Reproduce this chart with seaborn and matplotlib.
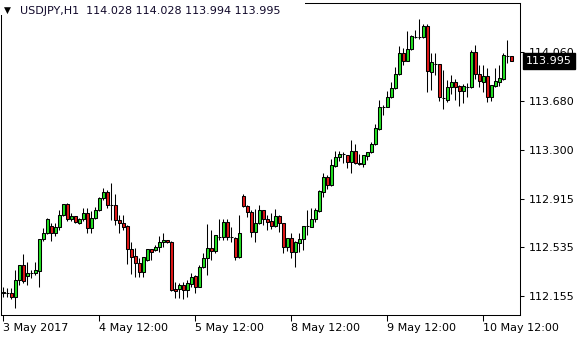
import numpy as np
import pandas as pd
import matplotlib
matplotlib.use("Agg")
import matplotlib.pyplot as plt
from matplotlib.patches import Rectangle
from matplotlib.transforms import blended_transform_factory
import seaborn as sns

# ---------------- data (USDJPY H1) ----------------
opens = [112.181, 112.181, 112.176, 112.145, 112.280, 112.398, 112.311, 112.337, 112.337, 112.353,
         112.598, 112.645, 112.702, 112.650, 112.692, 112.788, 112.874, 112.755, 112.781, 112.728,
         112.755, 112.802, 112.684, 112.763, 112.827, 112.919, 112.970, 112.866, 112.866, 112.749,
         112.728, 112.702, 112.523, 112.468, 112.411, 112.340, 112.437, 112.523, 112.515, 112.536,
         112.575, 112.593, 112.580, 112.212, 112.210, 112.241, 112.202, 112.249, 112.311, 112.228,
         112.380, 112.450, 112.528, 112.509, 112.619, 112.614, 112.736, 112.614, 112.606, 112.462,
         112.937, 112.861, 112.814, 112.652, 112.726, 112.827, 112.755, 112.744, 112.702, 112.781,
         112.723, 112.541, 112.606, 112.501, 112.572, 112.598, 112.702, 112.697, 112.755, 112.822,
         112.970, 113.083, 113.023, 113.174, 113.239, 113.265, 113.257, 113.205, 113.289, 113.192,
         113.185, 113.252, 113.278, 113.341, 113.458, 113.634, 113.635, 113.708, 113.779, 113.890,
         114.052, 113.994, 114.084, 114.182, 114.176, 114.177, 114.266, 113.908, 113.969, 113.969,
         113.700, 113.687, 113.786, 113.830, 113.797, 113.760, 113.791, 113.786, 114.065, 113.890,
         113.830, 113.875, 113.713, 113.797, 113.830, 113.851, 114.034, 114.028]
highs = [112.223, 112.218, 112.218, 112.358, 112.400, 112.483, 112.423, 112.358, 112.423, 112.601,
         112.684, 112.763, 112.723, 112.723, 112.827, 112.876, 112.884, 112.802, 112.783, 112.763,
         112.841, 112.841, 112.820, 112.853, 112.926, 113.002, 112.984, 113.036, 112.950, 112.788,
         112.788, 112.710, 112.580, 112.528, 112.455, 112.460, 112.525, 112.525, 112.554, 112.627,
         112.645, 112.595, 112.582, 112.267, 112.254, 112.267, 112.280, 112.333, 112.319, 112.398,
         112.494, 112.718, 112.671, 112.634, 112.755, 112.755, 112.755, 112.697, 112.619, 112.788,
         112.952, 112.866, 112.827, 112.833, 112.866, 112.829, 112.788, 112.802, 112.833, 112.788,
         112.728, 112.608, 112.645, 112.585, 112.645, 112.704, 112.827, 112.841, 112.841, 112.984,
         113.114, 113.101, 113.224, 113.285, 113.289, 113.278, 113.259, 113.375, 113.343, 113.265,
         113.259, 113.283, 113.361, 113.500, 113.687, 113.648, 113.758, 113.830, 113.948, 114.109,
         114.091, 114.229, 114.195, 114.234, 114.318, 114.281, 114.281, 114.052, 114.052, 113.970,
         113.922, 113.844, 113.883, 113.851, 113.805, 113.812, 113.820, 114.078, 114.117, 113.961,
         113.961, 113.935, 113.807, 113.935, 113.961, 114.052, 114.156, 114.028]
lows = [112.145, 112.147, 112.132, 112.059, 112.241, 112.254, 112.241, 112.293, 112.319, 112.228,
        112.587, 112.637, 112.587, 112.627, 112.671, 112.781, 112.744, 112.744, 112.723, 112.718,
        112.744, 112.645, 112.645, 112.755, 112.820, 112.906, 112.841, 112.749, 112.710, 112.645,
        112.671, 112.403, 112.325, 112.306, 112.306, 112.306, 112.429, 112.437, 112.507, 112.497,
        112.541, 112.567, 112.194, 112.137, 112.137, 112.129, 112.150, 112.228, 112.176, 112.223,
        112.372, 112.319, 112.437, 112.494, 112.593, 112.593, 112.593, 112.580, 112.437, 112.450,
        112.853, 112.770, 112.614, 112.580, 112.718, 112.710, 112.671, 112.677, 112.697, 112.658,
        112.494, 112.509, 112.450, 112.380, 112.501, 112.515, 112.632, 112.694, 112.736, 112.814,
        112.927, 112.989, 113.015, 113.166, 113.208, 113.197, 113.153, 113.119, 113.187, 113.179,
        113.166, 113.218, 113.271, 113.335, 113.453, 113.574, 113.630, 113.701, 113.777, 113.883,
        113.961, 113.992, 114.078, 114.170, 114.162, 114.170, 113.752, 113.765, 113.883, 113.682,
        113.615, 113.672, 113.734, 113.687, 113.640, 113.664, 113.713, 113.781, 113.849, 113.786,
        113.752, 113.674, 113.682, 113.791, 113.797, 113.844, 113.979, 113.994]
closes = [112.183, 112.180, 112.145, 112.280, 112.397, 112.275, 112.337, 112.338, 112.358, 112.598,
          112.645, 112.755, 112.650, 112.697, 112.788, 112.874, 112.755, 112.781, 112.736, 112.755,
          112.802, 112.684, 112.763, 112.827, 112.924, 112.970, 112.866, 112.867, 112.749, 112.728,
          112.697, 112.523, 112.462, 112.411, 112.340, 112.458, 112.523, 112.501, 112.536, 112.575,
          112.593, 112.575, 112.202, 112.197, 112.241, 112.202, 112.254, 112.306, 112.228, 112.380,
          112.450, 112.528, 112.509, 112.632, 112.620, 112.736, 112.614, 112.613, 112.462, 112.650,
          112.859, 112.814, 112.652, 112.726, 112.827, 112.755, 112.736, 112.702, 112.781, 112.723,
          112.541, 112.606, 112.501, 112.580, 112.598, 112.702, 112.703, 112.755, 112.827, 112.978,
          113.083, 113.023, 113.179, 113.239, 113.265, 113.264, 113.205, 113.289, 113.192, 113.190,
          113.257, 113.278, 113.343, 113.466, 113.635, 113.636, 113.708, 113.779, 113.890, 114.052,
          113.994, 114.084, 114.188, 114.183, 114.178, 114.266, 113.916, 113.987, 113.968, 113.708,
          113.702, 113.786, 113.830, 113.791, 113.760, 113.797, 113.792, 114.065, 113.890, 113.838,
          113.875, 113.713, 113.805, 113.838, 113.857, 114.039, 114.033, 113.995]

x_tick_bars = [0, 24, 48, 72, 96, 120]
x_tick_labels = ["3 May 2017", "4 May 12:00", "5 May 12:00", "8 May 12:00", "9 May 12:00", "10 May 12:00"]
y_ticks = [112.155, 112.535, 112.915, 113.300, 113.680, 114.060]
y_tick_labels = ["112.155", "112.535", "112.915", "113.300", "113.680", "114.060"]
symbol = "USDJPY,H1"
last_ohlc = ["114.028", "114.028", "113.994", "113.995"]
last_price = 113.995
last_price_label = "113.995"

# ---------------- style ----------------
sns.set_theme(style="white")
plt.rcParams['font.family'] = ['DejaVu Sans']

UP = "#22E022"
DOWN = "#E01818"

df = pd.DataFrame({"open": opens, "high": highs, "low": lows, "close": closes})
df["bar"] = np.arange(len(df))
df["up"] = df["close"] >= df["open"]
df["body_lo"] = df[["open", "close"]].min(axis=1)
df["body_h"] = (df["close"] - df["open"]).abs().clip(lower=0.0006)

W, H = 580, 340
fig = plt.figure(figsize=(W / 100, H / 100), dpi=100)
fig.patch.set_facecolor("white")
ax = fig.add_axes([1 / W, 1 - 315 / H, 519 / W, (315 - 2.7) / H])
ax.set_facecolor("white")

# wicks
ax.vlines(df["bar"], df["low"], df["high"], color="black", linewidth=0.75, zorder=2)
# bodies
ax.bar(df["bar"], df["body_h"], bottom=df["body_lo"], width=0.68,
       color=np.where(df["up"], UP, DOWN), edgecolor="black", linewidth=0.75, zorder=3)

ax.set_xlim(-0.575, 129.175)
ax.set_ylim(112.0066, 114.448)

for s in ax.spines.values():
    s.set_color("black")
    s.set_linewidth(0.75)
    s.set_visible(True)

ax.yaxis.tick_right()
ax.set_yticks(y_ticks)
ax.set_yticklabels(y_tick_labels)
ax.set_xticks(x_tick_bars)
ax.set_xticklabels(x_tick_labels, ha="left")
ax.tick_params(axis="y", which="major", right=True, left=False, labelright=True, labelleft=False,
               direction="out", length=3, width=0.75, color="black", pad=3,
               labelsize=8, labelcolor="black")
ax.tick_params(axis="x", which="major", bottom=True, direction="out", length=4, width=0.75,
               color="black", pad=2, labelsize=8, labelcolor="black")
for lbl in ax.get_xticklabels():
    lbl.set_horizontalalignment("left")
ax.grid(False)

# current price marker on the right scale
tr = blended_transform_factory(ax.transAxes, ax.transData)
ax.annotate(last_price_label, xy=(1.0, last_price), xycoords=tr, xytext=(4.3, 0),
            textcoords="offset points", ha="left", va="center", fontsize=8, color="white",
            bbox=dict(boxstyle="square,pad=0.28", facecolor="black", edgecolor="black"),
            annotation_clip=False, zorder=10)

# title block (covers the frame in the top-left corner, like the terminal does)
fig.patches.append(Rectangle((0, 1 - 15 / H), 305 / W, 15 / H, transform=fig.transFigure,
                             facecolor="white", edgecolor="none", zorder=20))
fig.text(7 / W, 1 - 10.8 / H, "\u25BC", ha="center", va="center", fontsize=6.5,
         color="black", zorder=21)
fig.text(20 / W, 1 - 11.5 / H, symbol + "  " + " ".join(last_ohlc), ha="left", va="center",
         fontsize=8, color="#10082a", zorder=21)

fig.savefig("out.png", dpi=100, facecolor="white")
